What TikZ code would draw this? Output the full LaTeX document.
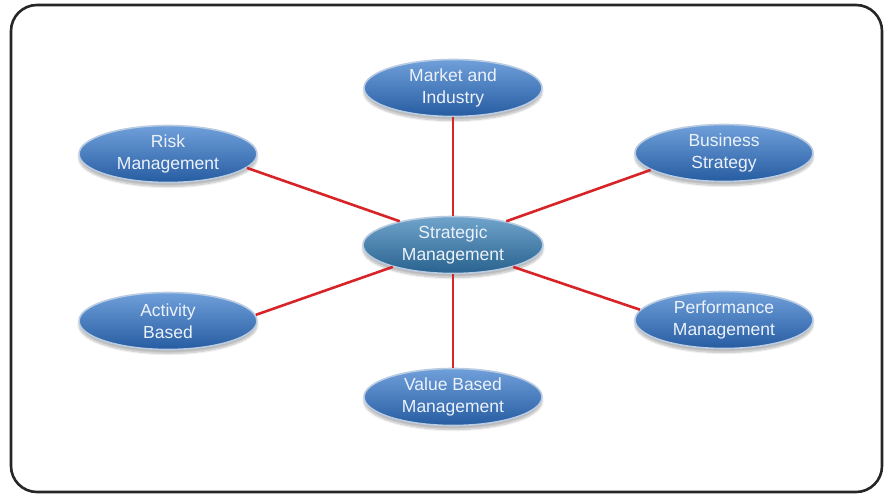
\documentclass[tikz,border=0pt]{standalone}
\usepackage{fontspec}
\setmainfont{Liberation Sans}
\usetikzlibrary{shapes.geometric,shadows.blur}
\definecolor{topicTop}{RGB}{112,160,218}
\definecolor{topicBot}{RGB}{38,92,162}
\definecolor{hubTop}{RGB}{112,164,204}
\definecolor{hubBot}{RGB}{40,98,142}
\definecolor{rimBlue}{RGB}{186,204,226}
\definecolor{linkRed}{RGB}{214,36,40}
\definecolor{labelWhite}{RGB}{236,242,250}
\tikzset{
  x=1pt, y=-1pt,
  topic/.style={ellipse, minimum width=178pt, minimum height=57pt, inner sep=0pt,
    top color=topicTop, bottom color=topicBot, draw=rimBlue, line width=1.6pt,
    blur shadow={shadow xshift=0pt, shadow yshift=-4pt, shadow opacity=28, shadow blur steps=8},
    text=labelWhite, align=center, font=\fontsize{17.5}{22.5}\selectfont},
  hub/.style={topic, minimum width=180pt, top color=hubTop, bottom color=hubBot},
  link/.style={draw=linkRed, line width=2.6pt}
}
\begin{document}
\begin{tikzpicture}
\useasboundingbox (0,0) rectangle (888,495);
% frame
\draw[line width=2.6pt, color=black!85, rounded corners=26pt] (11,5) rectangle (882,492);
% nodes
\node[hub]   (sm)   at (453,245) {Strategic\\Management};
\node[topic] (mkt)  at (453,88)  {Market and\\Industry};
\node[topic] (risk) at (168,154) {Risk\\Management};
\node[topic] (bus)  at (724,153) {Business\\Strategy};
\node[topic] (act)  at (168,321) {Activity\\Based};
\node[topic] (perf) at (724,320) {Performance\\Management};
\node[topic] (val)  at (453,397) {Value Based\\Management};
% spokes
\draw[link] (sm.north) -- (mkt.south);
\draw[link] (sm.south) -- (val.north);
\draw[link] (sm.156) -- (risk.-10);
\draw[link] (sm.24)  -- (bus.193);
\draw[link] (sm.200) -- (act.4);
\draw[link] (sm.-20) -- (perf.173);
\end{tikzpicture}
\end{document}
